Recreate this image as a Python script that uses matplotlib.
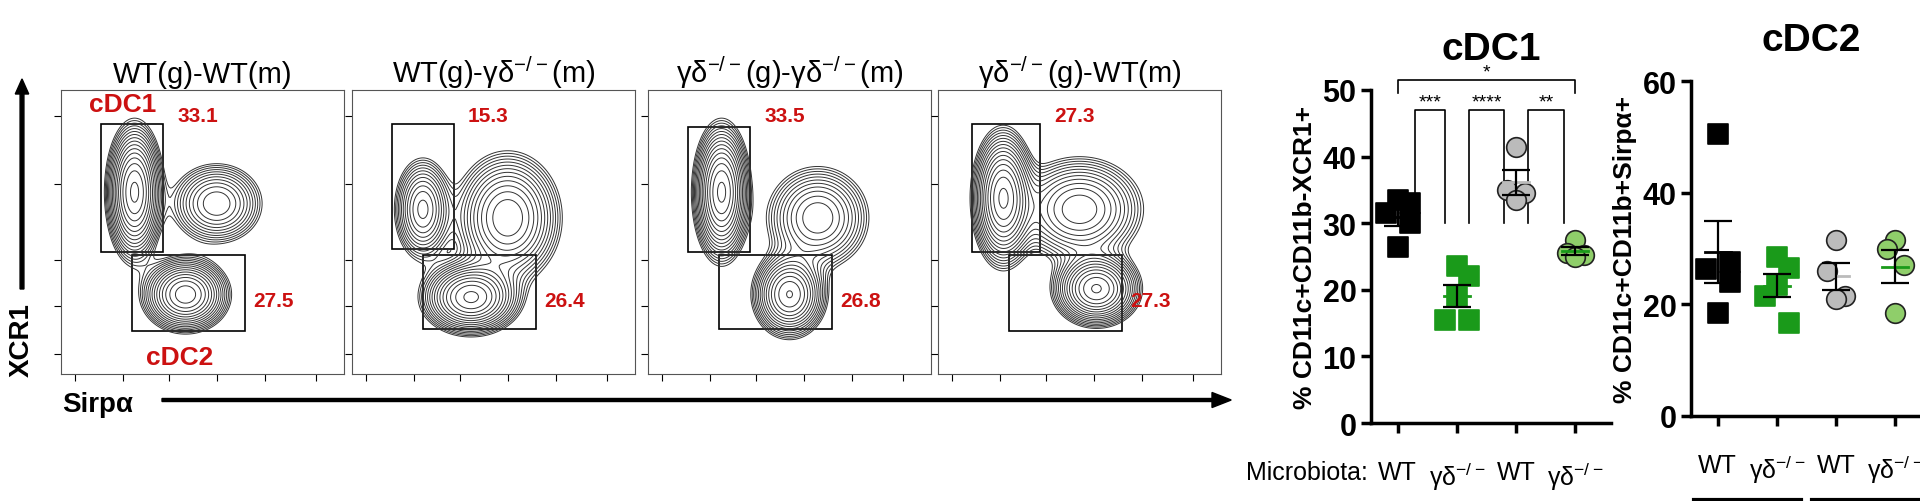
import numpy as np
import matplotlib
matplotlib.use("Agg")
import matplotlib.pyplot as plt
from matplotlib.patches import Rectangle

plt.rcParams['font.family'] = ['Liberation Sans Narrow', 'Liberation Sans', 'DejaVu Sans']
plt.rcParams['mathtext.default'] = 'regular'

GD = r'γδ$^{-/-}$'

# flow panels
panel_titles = ['WT(g)-WT(m)', 'WT(g)-' + GD + '(m)', GD + '(g)-' + GD + '(m)', GD + '(g)-WT(m)']
cdc1_pct = ['33.1', '15.3', '33.5', '27.3']
cdc2_pct = ['27.5', '26.4', '26.8', '27.3']
# blobs per panel: (x, y, sx, sy, weight)
blobs = [
    [(0.26, 0.64, 0.045, 0.11, 1.0), (0.55, 0.60, 0.08, 0.07, 0.45), (0.44, 0.28, 0.07, 0.06, 0.9)],
    [(0.25, 0.58, 0.05, 0.09, 0.45), (0.55, 0.55, 0.09, 0.11, 0.6), (0.42, 0.27, 0.08, 0.06, 0.9)],
    [(0.26, 0.64, 0.045, 0.11, 1.0), (0.60, 0.55, 0.09, 0.09, 0.45), (0.50, 0.28, 0.06, 0.07, 0.8)],
    [(0.23, 0.62, 0.05, 0.11, 0.9), (0.50, 0.58, 0.11, 0.09, 0.5), (0.56, 0.30, 0.07, 0.06, 0.9)],
]
gate1 = [(0.14, 0.43, 0.22, 0.45), (0.14, 0.44, 0.22, 0.44), (0.14, 0.43, 0.22, 0.44), (0.12, 0.43, 0.24, 0.45)]
gate2 = [(0.25, 0.15, 0.40, 0.27), (0.25, 0.16, 0.40, 0.26), (0.25, 0.16, 0.40, 0.26), (0.25, 0.15, 0.40, 0.27)]

# dot plots
groups = [0, 1, 2, 3]
cdc1_wt_wt = [33.5, 33, 31.5, 30, 26.5]
cdc1_wt_gd = [23.5, 22, 19, 15.5, 15.5]
cdc1_gd_gd = [41.5, 35, 34.5, 33.5]
cdc1_gd_wt = [27.5, 25.5, 25.3, 25]
cdc2_wt_wt = [50.5, 27.5, 26.3, 24, 18.5]
cdc2_wt_gd = [28.5, 26.5, 23.5, 21.5, 16.7]
cdc2_gd_gd = [31.5, 26, 21.5, 21]
cdc2_gd_wt = [31.5, 30, 27, 18.5]
markers = ['s', 's', 'o', 'o']
colors = ['black', '#1a9a1a', '#bbbbbb', '#8fce6a']
mean_colors = ['black', '#1a9a1a', '#bbbbbb', '#1a9a1a']
jitter = [[0, 0.2, -0.2, 0.2, 0], [0, 0.2, 0, -0.2, 0.2], [0, -0.15, 0.15, 0], [0, -0.15, 0.15, 0]]

fig = plt.figure(figsize=(19.2, 5.02), dpi=100)

xs = [61, 352, 648, 938]
gx, gy = np.meshgrid(np.linspace(0, 1, 200), np.linspace(0, 1, 200))
for i in range(4):
    ax = fig.add_axes([xs[i] / 1920, 1 - 375 / 502, 283 / 1920, 284 / 502])
    z = np.zeros_like(gx)
    for (bx, by, sx, sy, w) in blobs[i]:
        z += w * np.exp(-((gx - bx) ** 2 / (2 * sx ** 2) + (gy - by) ** 2 / (2 * sy ** 2)))
    levels = np.geomspace(0.06, z.max() * 0.95, 16)
    ax.contour(gx, gy, z, levels=levels, colors='#333333', linewidths=0.7)
    r1 = gate1[i]
    r2 = gate2[i]
    ax.add_patch(Rectangle(r1[:2], r1[2], r1[3], fill=False, lw=1.2, color='black'))
    ax.add_patch(Rectangle(r2[:2], r2[2], r2[3], fill=False, lw=1.2, color='black'))
    ax.text(r1[0] + r1[2] + 0.05, 0.91, cdc1_pct[i], color='#cc1111', fontsize=15, fontweight='bold', va='center')
    ax.text(r2[0] + r2[2] + 0.03, 0.26, cdc2_pct[i], color='#cc1111', fontsize=15, fontweight='bold', va='center')
    ax.set_xlim(0, 1)
    ax.set_ylim(0, 1)
    ax.set_xticks([0.05, 0.22, 0.38, 0.55, 0.72, 0.9])
    ax.set_yticks([0.07, 0.24, 0.4, 0.67, 0.91])
    ax.tick_params(labelbottom=False, labelleft=False, length=5, direction='out')
    for s in ax.spines.values():
        s.set_linewidth(0.8)
        s.set_color('#555555')
    ax.set_title(panel_titles[i], fontsize=21, pad=6)
    if i == 0:
        ax.text(0.1, 0.95, 'cDC1', color='#cc1111', fontsize=19, fontweight='bold', va='center')
        ax.text(0.3, 0.06, 'cDC2', color='#cc1111', fontsize=19, fontweight='bold', va='center')

# axis arrows
fig.patches.append(matplotlib.patches.FancyArrow(22 / 1920, 1 - 290 / 502, 0, 195 / 502, width=0.002,
                   head_width=0.007, head_length=0.03, color='black', transform=fig.transFigure))
fig.text(22 / 1920, 1 - 340 / 502, 'XCR1', rotation=90, fontsize=20, fontweight='bold',
         ha='center', va='center', family='Liberation Sans')
fig.patches.append(matplotlib.patches.FancyArrow(162 / 1920, 1 - 401 / 502, 1050 / 1920, 0, width=0.006,
                   head_width=0.03, head_length=0.01, color='black', transform=fig.transFigure))
fig.text(62 / 1920, 1 - 405 / 502, 'Sirpα', fontsize=20, fontweight='bold', va='center',
         family='Liberation Sans')


def dot_panel(ax, data, ymax, ystep):
    for g, vals in zip(groups, data):
        vals = np.array(vals)
        ax.scatter(g + np.array(jitter[g][:len(vals)]), vals, marker=markers[g],
                   s=200, color=colors[g], edgecolors='#222222' if markers[g] == 'o' else colors[g],
                   linewidths=1.2, zorder=3)
        m = vals.mean()
        sem = vals.std(ddof=1) / np.sqrt(len(vals))
        ax.plot([g - 0.22, g + 0.22], [m, m], color=mean_colors[g], lw=2, zorder=4)
        ax.errorbar(g, m, yerr=sem, color='black', capsize=10, lw=1.6, capthick=1.6, zorder=4)
    ax.set_xlim(-0.45, 3.6)
    ax.set_ylim(0, ymax)
    ax.set_yticks(np.arange(0, ymax + 1, ystep))
    ax.set_xticks(groups)
    ax.set_xticklabels([])
    for s in ['top', 'right']:
        ax.spines[s].set_visible(False)
    for s in ['left', 'bottom']:
        ax.spines[s].set_linewidth(2.5)
    ax.tick_params(width=2.5, length=7)
    for t in ax.get_yticklabels():
        t.set_fontsize(22)
        t.set_fontweight('bold')
        t.set_family('Liberation Sans')


def group_labels(ax, with_prefix):
    lab = ['WT', GD, 'WT', GD]
    for g in groups:
        ax.text(g, -0.11, lab[g], transform=ax.get_xaxis_transform(), ha='center', va='top', fontsize=18)
    for a, b in [(0, 1), (2, 3)]:
        ax.plot([a - 0.4, b + 0.4], [-0.25, -0.25], transform=ax.get_xaxis_transform(),
                color='black', lw=3, clip_on=False)
    ax.text(0.5, -0.265, 'WT', transform=ax.get_xaxis_transform(), ha='center', va='top', fontsize=18)
    ax.text(2.5, -0.265, GD, transform=ax.get_xaxis_transform(), ha='center', va='top', fontsize=18)
    if with_prefix:
        ax.text(-0.5, -0.11, 'Microbiota:', transform=ax.get_xaxis_transform(), ha='right', va='top', fontsize=18)
        ax.text(-0.5, -0.265, 'Genotype:', transform=ax.get_xaxis_transform(), ha='right', va='top', fontsize=18)


ax1 = fig.add_axes([1371 / 1920, 1 - 424 / 502, 240 / 1920, 333 / 502])
dot_panel(ax1, [cdc1_wt_wt, cdc1_wt_gd, cdc1_gd_gd, cdc1_gd_wt], 50, 10)
ax1.set_title('cDC1', fontsize=28, fontweight='bold', pad=22, family='Liberation Sans')
ax1.set_ylabel('% CD11c+CD11b-XCR1+', fontsize=19, fontweight='bold', family='Liberation Sans')
group_labels(ax1, True)
# significance brackets
brackets = [(0, 3, 51.5, 49.5, '*'), (0.3, 0.8, 47, 30, '***'), (1.2, 1.8, 47, 30, '****'), (2.2, 2.8, 47, 30, '**')]
for a, b, h, low, star in brackets:
    ax1.plot([a, a, b, b], [low, h, h, low], color='black', lw=1.2, clip_on=False)
    ax1.text((a + b) / 2, h, star, ha='center', va='bottom', fontsize=14)

ax2 = fig.add_axes([1691 / 1920, 1 - 417 / 502, 240 / 1920, 335 / 502])
dot_panel(ax2, [cdc2_wt_wt, cdc2_wt_gd, cdc2_gd_gd, cdc2_gd_wt], 60, 20)
ax2.set_title('cDC2', fontsize=28, fontweight='bold', pad=22, family='Liberation Sans')
ax2.set_ylabel('% CD11c+CD11b+Sirpα+', fontsize=19, fontweight='bold', family='Liberation Sans')
group_labels(ax2, False)

fig.savefig('out.png', dpi=100)
